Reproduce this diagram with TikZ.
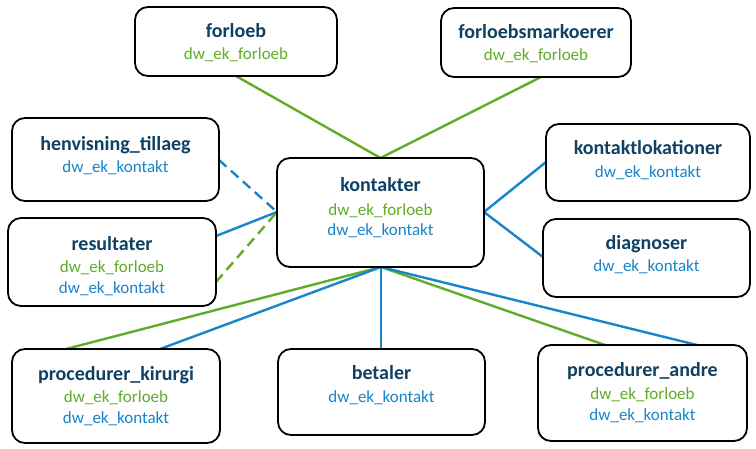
\documentclass[tikz,border=0pt]{standalone}
\usepackage{fontspec}
\setmainfont{Carlito}
\definecolor{ttl}{RGB}{16,64,98}
\definecolor{grn}{RGB}{96,172,40}
\definecolor{blu}{RGB}{24,132,202}
\begin{document}
\begin{tikzpicture}[x=1pt,y=-1pt,
  box/.style={draw=black,line width=1.8pt,rounded corners=13pt,fill=white,inner sep=0pt},
  ttxt/.style={font=\fontsize{20}{24}\selectfont\bfseries,text=ttl,anchor=base,inner sep=0pt},
  gtxt/.style={font=\fontsize{17}{20}\selectfont,text=grn,anchor=base,inner sep=0pt},
  btxt/.style={font=\fontsize{17}{20}\selectfont,text=blu,anchor=base,inner sep=0pt},
  gl/.style={draw=grn,line width=2.4pt},
  bl/.style={draw=blu,line width=2.4pt},
  dsh/.style={dash pattern=on 10pt off 6pt}]
\useasboundingbox (0,0) rectangle (756,448);
% connectors first (behind boxes)
\coordinate (kN) at (380.5,158);
\coordinate (kW) at (277,212);
\coordinate (kE) at (484,212);
\coordinate (kS) at (381,267);
\coordinate (fB) at (236,76);
\coordinate (fmB) at (541,77);
\coordinate (hE) at (219,160);
\coordinate (rE1) at (216,236);
\coordinate (rE2) at (216,282);
\coordinate (klW) at (546,162);
\coordinate (dW) at (543,257);
\coordinate (pkG) at (66,349);
\coordinate (pkB) at (160,349);
\coordinate (bT) at (381,349);
\coordinate (paG) at (605,345);
\coordinate (paB) at (697,345);
\draw[gl] (fB) -- (kN) -- (fmB);
\draw[bl,dsh] (hE) -- (kW);
\draw[bl] (rE1) -- (kW);
\draw[gl,dsh] (rE2) -- (kW);
\draw[bl] (klW) -- (kE) -- (dW);
\draw[gl] (pkG) -- (kS);
\draw[bl] (pkB) -- (kS);
\draw[bl] (bT) -- (kS);
\draw[gl] (paG) -- (kS);
\draw[bl] (paB) -- (kS);
% boxes
\node[box,minimum width=202pt,minimum height=69pt] (forloeb) at (236,41.5) {};
\node[box,minimum width=190pt,minimum height=69pt] (fmark) at (536,42.5) {};
\node[box,minimum width=207pt,minimum height=83pt] (henv) at (115.5,159.5) {};
\node[box,minimum width=208pt,minimum height=88pt] (result) at (112,262) {};
\node[box,minimum width=207pt,minimum height=109pt] (kont) at (380.5,212.5) {};
\node[box,minimum width=204pt,minimum height=77pt] (klok) at (648,162.5) {};
\node[box,minimum width=207pt,minimum height=78pt] (diag) at (646.5,258) {};
\node[box,minimum width=208pt,minimum height=94pt] (pkir) at (116,396) {};
\node[box,minimum width=207pt,minimum height=86pt] (betal) at (381.5,392) {};
\node[box,minimum width=209pt,minimum height=96pt] (pand) at (642.5,393) {};
% texts
\node[ttxt] (forloeb-t) at (236,37) {forloeb};
\node[gtxt] (forloeb-g) at (236,59) {dw\_ek\_forloeb};
\node[ttxt] (fmark-t) at (536,38) {forloebsmarkoerer};
\node[gtxt] (fmark-g) at (536,60) {dw\_ek\_forloeb};
\node[ttxt] (henv-t) at (115.5,150) {henvisning\_tillaeg};
\node[btxt] (henv-b) at (115.5,172) {dw\_ek\_kontakt};
\node[ttxt] (result-t) at (112,250) {resultater};
\node[gtxt] (result-g) at (112,272) {dw\_ek\_forloeb};
\node[btxt] (result-b) at (112,293) {dw\_ek\_kontakt};
\node[ttxt] (kont-t) at (380.5,191) {kontakter};
\node[gtxt] (kont-g) at (380.5,215) {dw\_ek\_forloeb};
\node[btxt] (kont-b) at (380.5,235) {dw\_ek\_kontakt};
\node[ttxt] (klok-t) at (648,154) {kontaktlokationer};
\node[btxt] (klok-b) at (648,177) {dw\_ek\_kontakt};
\node[ttxt] (diag-t) at (646.5,249) {diagnoser};
\node[btxt] (diag-b) at (646.5,271) {dw\_ek\_kontakt};
\node[ttxt] (pkir-t) at (116,380) {procedurer\_kirurgi};
\node[gtxt] (pkir-g) at (116,402) {dw\_ek\_forloeb};
\node[btxt] (pkir-b) at (116,423) {dw\_ek\_kontakt};
\node[ttxt] (betal-t) at (381.5,379) {betaler};
\node[btxt] (betal-b) at (381.5,402) {dw\_ek\_kontakt};
\node[ttxt] (pand-t) at (642.5,376) {procedurer\_andre};
\node[gtxt] (pand-g) at (642.5,399) {dw\_ek\_forloeb};
\node[btxt] (pand-b) at (642.5,420) {dw\_ek\_kontakt};
\end{tikzpicture}
\end{document}
